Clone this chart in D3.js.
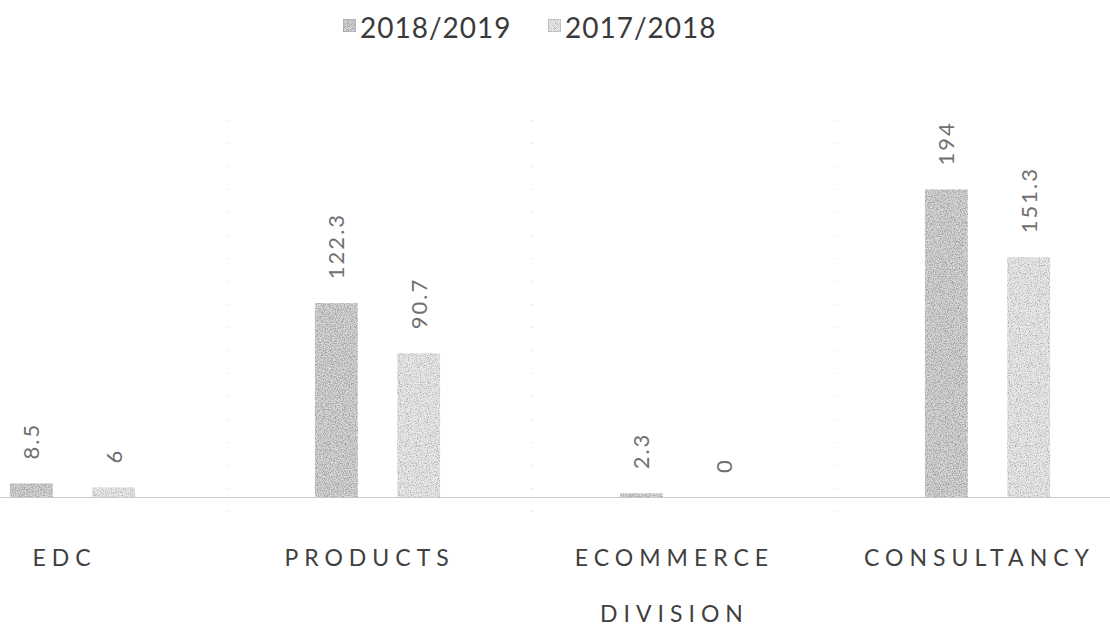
<!DOCTYPE html>
<meta charset="utf-8">
<style>
    body { margin: 0; background: #fff; }
    svg { display: block; }
    .legend text { font: 28px Lato, sans-serif; fill: #3a3a3a; letter-spacing: 1px; }
    .val { font: 22px Lato, sans-serif; fill: #707070; letter-spacing: 2px; }
    .axis text { font: 23px Lato, sans-serif; fill: #404040; letter-spacing: 6px; }
    .axis path { stroke: #c8c8c8; }
</style>
<svg width="1110" height="641"></svg>
<script src="https://d3js.org/d3.v7.min.js"></script>
<script>

    var categories = ["EDC", "PRODUCTS", "ECOMMERCE DIVISION", "CONSULTANCY"];
    var categoryLines = [["EDC"], ["PRODUCTS"], ["ECOMMERCE", "DIVISION"], ["CONSULTANCY"]];
    var seriesNames = ["2018/2019", "2017/2018"];
    var values2018 = [8.5, 122.3, 2.3, 194];
    var values2017 = [6, 90.7, 0, 151.3];

    var svg = d3.select("svg"),
        baseY = 497;

    // speckled fills, like the photocopy
    var defs = svg.append("defs");
    function speckle(id, dark, k, b, freq, seed) {
        var f = defs.append("filter").attr("id", id)
            .attr("x", 0).attr("y", 0).attr("width", "100%").attr("height", "100%");
        f.append("feTurbulence").attr("type", "fractalNoise")
            .attr("baseFrequency", freq).attr("numOctaves", 2).attr("seed", seed)
            .attr("result", "n");
        f.append("feColorMatrix").attr("in", "n").attr("type", "matrix")
            .attr("values", "0 0 0 0 " + dark + "  0 0 0 0 " + dark + "  0 0 0 0 " + dark + "  " + k + " 0 0 0 " + b)
            .attr("result", "dots");
        f.append("feComposite").attr("in", "dots").attr("in2", "SourceGraphic")
            .attr("operator", "in").attr("result", "clip");
        var m = f.append("feMerge");
        m.append("feMergeNode").attr("in", "SourceGraphic");
        m.append("feMergeNode").attr("in", "clip");
    }
    speckle("sp1", 0.35, 3.2, -1.25, 0.85, 7);
    speckle("sp2", 0.4, 3.0, -1.35, 0.9, 14);
    var fills = ["#d8d8d8", "#e8e8e8"];
    var filters = ["url(#sp1)", "url(#sp2)"];

    var x0 = d3.scaleBand().domain(categories)
        .range([-80, 1140]).paddingInner(0.46).paddingOuter(0.23);
    var x1 = d3.scaleBand().domain(seriesNames)
        .range([0, x0.bandwidth()]).paddingInner(0.48).paddingOuter(0.24);
    var y = d3.scaleLinear().domain([0, 200]).range([baseY, 180]);

    // faint separators between categories
    svg.append("g").selectAll("line").data(categories.slice(1)).enter().append("line")
        .attr("x1", function(d) { return x0(d) - x0.step() * 0.23 + 2; })
        .attr("x2", function(d) { return x0(d) - x0.step() * 0.23 + 2; })
        .attr("y1", 120).attr("y2", baseY + 30)
        .attr("stroke", "#d4d4d4").attr("stroke-width", 1).attr("stroke-dasharray", "1 22");

    var axis = svg.append("g")
        .attr("class", "axis")
        .attr("transform", "translate(0," + baseY + ")")
        .call(d3.axisBottom(x0).tickSize(0).tickSizeOuter(0));
    axis.selectAll(".tick text").each(function(d, i) {
        var t = d3.select(this).text(null).attr("y", 0).attr("dy", null);
        categoryLines[i].forEach(function(line, j) {
            t.append("tspan").attr("x", -8).attr("y", 69 + j * 56).text(line);
        });
    });

    var data = categories.map(function(c, i) {
        return { cat: c, vals: [values2018[i], values2017[i]] };
    });

    var groups = svg.selectAll(".cat").data(data).enter().append("g")
        .attr("class", "cat")
        .attr("transform", function(d) { return "translate(" + x0(d.cat) + ",0)"; });

    groups.selectAll("rect").data(function(d) { return d.vals; }).enter().append("rect")
        .attr("x", function(d, i) { return x1(seriesNames[i]); })
        .attr("y", function(d) { return y(d); })
        .attr("width", x1.bandwidth())
        .attr("height", function(d) { return baseY - y(d); })
        .attr("fill", function(d, i) { return fills[i]; })
        .attr("filter", function(d, i) { return filters[i]; });

    groups.selectAll(".val").data(function(d) { return d.vals; }).enter().append("text")
        .attr("class", "val")
        .attr("transform", function(d, i) {
            return "translate(" + (x1(seriesNames[i]) + x1.bandwidth() / 2 + 8) + "," + (y(d) - 24) + ") rotate(-90)";
        })
        .text(function(d) { return d; });

    // legend
    var legend = svg.append("g").attr("class", "legend");
    var legX = [343, 548];
    seriesNames.forEach(function(s, i) {
        legend.append("rect").attr("x", legX[i]).attr("y", 19).attr("width", 13).attr("height", 13)
            .attr("fill", fills[i]).attr("stroke", "#9a9a9a").attr("stroke-width", 0.8)
            .attr("filter", filters[i]);
        legend.append("text").attr("x", legX[i] + 17).attr("y", 38).text(s);
    });

</script>
